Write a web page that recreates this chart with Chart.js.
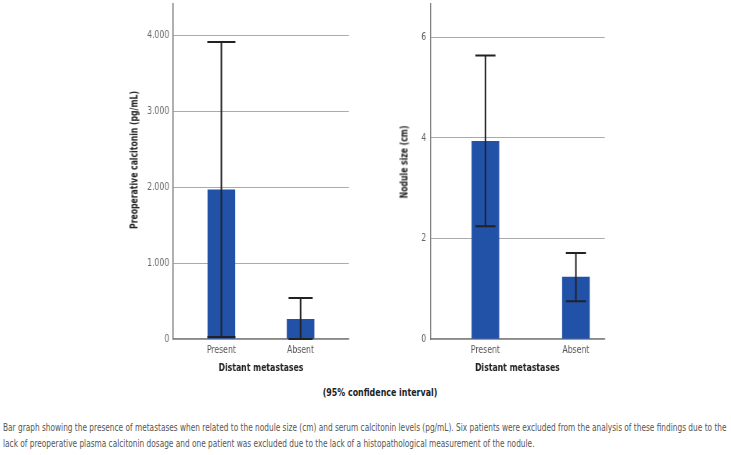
<!DOCTYPE html>
<html>
<head>
<meta charset="utf-8">
<script src="https://cdn.jsdelivr.net/npm/chart.js@4/dist/chart.umd.min.js"></script>
<style>
  body { margin: 0; background: #fff; width: 731px; height: 455px; position: relative; overflow: hidden; font-family: 'DejaVu Sans Condensed', 'Liberation Sans', sans-serif; }
  /* chart boxes are drawn wide and squeezed horizontally to get the condensed look */
  .box { position: absolute; top: -8px; height: 383px; transform-origin: 0 0; transform: scaleX(0.78); }
  .ytitle { position: absolute; white-space: nowrap; font-weight: bold; font-size: 11px; color: #222; transform: translate(-50%, -50%) rotate(-90deg) scaleX(0.78); }
  #ci { position: absolute; left: 380px; top: 392px; white-space: nowrap; font-weight: bold; font-size: 11px; color: #222; transform: translate(-50%, -50%) scaleX(0.8); }
  #caption { position: absolute; left: 3px; top: 420px; width: 1100px; font-size: 11px; line-height: 16px; color: #555; transform-origin: 0 0; transform: scaleX(0.747); }
</style>
</head>
<body>
<div class="box" style="left:120px;width:307.7px;"><canvas id="calcChart"></canvas></div>
<div class="box" style="left:390px;width:294.9px;"><canvas id="sizeChart"></canvas></div>
<div class="ytitle" style="left:134px;top:160px;">Preoperative calcitonin (pg/mL)</div>
<div class="ytitle" style="left:404px;top:162px;">Nodule size (cm)</div>
<div id="ci">(95% confidence interval)</div>
<div id="caption">Bar graph showing the presence of metastases when related to the nodule size (cm) and serum calcitonin levels (pg/mL). Six patients were excluded from the analysis of these findings due to the<br>lack of preoperative plasma calcitonin dosage and one patient was excluded due to the lack of a histopathological measurement of the nodule.</div>
<script>
// Data
const categories = ['Present', 'Absent'];
const calcitoninMean = [1966, 258];
const calcitoninLow = [26, 0];
const calcitoninHigh = [3915, 541];
const calcitoninTicks = [0, 1000, 2000, 3000, 4000];
const sizeMean = [3.93, 1.23];
const sizeLow = [2.24, 0.75];
const sizeHigh = [5.64, 1.71];
const sizeTicks = [0, 2, 4, 6];

const SQUEEZE = 0.78;
const BAR = '#2251a8';
const FONT = "'DejaVu Sans Condensed', 'Liberation Sans', sans-serif";

// error bars drawn via the chart scales
const errorBars = {
    id: 'errorBars',
    afterDatasetsDraw(chart, args, opts) {
        const { ctx, scales: { x, y } } = chart;
        ctx.save();
        ctx.strokeStyle = '#222';
        ctx.lineWidth = 2;
        opts.low.forEach((lo, i) => {
            const px = x.getPixelForValue(i);
            const yl = y.getPixelForValue(lo);
            const yh = y.getPixelForValue(opts.high[i]);
            const cap = opts.cap[i] / SQUEEZE;
            ctx.beginPath();
            ctx.moveTo(px, yl); ctx.lineTo(px, yh);
            ctx.moveTo(px - cap, yh); ctx.lineTo(px + cap, yh);
            ctx.moveTo(px - cap, yl); ctx.lineTo(px + cap, yl);
            ctx.stroke();
        });
        ctx.restore();
    }
};

function makeChart(id, means, low, high, cfg) {
    const ctx = document.getElementById(id).getContext('2d');
    return new Chart(ctx, {
        type: 'bar',
        data: {
            datasets: [{
                data: means.map((v, i) => ({ x: i, y: v })),
                backgroundColor: BAR,
                barThickness: 27 / SQUEEZE
            }]
        },
        plugins: [errorBars],
        options: {
            responsive: true,
            maintainAspectRatio: false,
            animation: false,
            layout: { padding: { top: 0, right: cfg.padRight / SQUEEZE, left: 0, bottom: 0 } },
            plugins: {
                legend: { display: false },
                tooltip: { enabled: false },
                errorBars: { low, high, cap: cfg.cap }
            },
            scales: {
                x: {
                    type: 'linear',
                    offset: false,
                    min: cfg.xMin,
                    max: cfg.xMax,
                    afterBuildTicks: scale => { scale.ticks = categories.map((_, i) => ({ value: i })); },
                    afterFit: scale => { scale.height = 36; },
                    grid: { display: false, drawTicks: false },
                    border: { color: '#888', width: 1.5 },
                    ticks: {
                        callback: v => categories[v],
                        color: '#555',
                        font: { family: FONT, size: 11 },
                        padding: 5,
                        maxRotation: 0
                    },
                    title: {
                        display: true,
                        text: 'Distant metastases',
                        color: '#222',
                        font: { family: FONT, size: 11, weight: 'bold' },
                        padding: { top: 0, bottom: 0 }
                    }
                },
                y: {
                    min: 0,
                    max: cfg.yMax,
                    afterBuildTicks: scale => { scale.ticks = cfg.ticks.map(v => ({ value: v })); },
                    afterFit: scale => { scale.width = cfg.yWidth / SQUEEZE; },
                    grid: { color: '#aaa', lineWidth: 1, drawTicks: false },
                    border: { color: '#777', width: 1.5 },
                    ticks: {
                        color: '#666',
                        padding: 5,
                        font: { family: FONT, size: 11 },
                        callback: cfg.fmt
                    }
                }
            }
        }
    });
}

makeChart('calcChart', calcitoninMean, calcitoninLow, calcitoninHigh, {
    xMin: -0.608, xMax: 1.608, yMax: 4420, yWidth: 53, padRight: 12,
    ticks: calcitoninTicks,
    cap: [14, 12],
    fmt: v => v === 0 ? '0' : (v / 1000).toFixed(3)
});

makeChart('sizeChart', sizeMean, sizeLow, sizeHigh, {
    xMin: -0.611, xMax: 1.319, yMax: 6.67, yWidth: 40, padRight: 16,
    ticks: sizeTicks,
    cap: [10, 10],
    fmt: v => String(v)
});
</script>
</body>
</html>
